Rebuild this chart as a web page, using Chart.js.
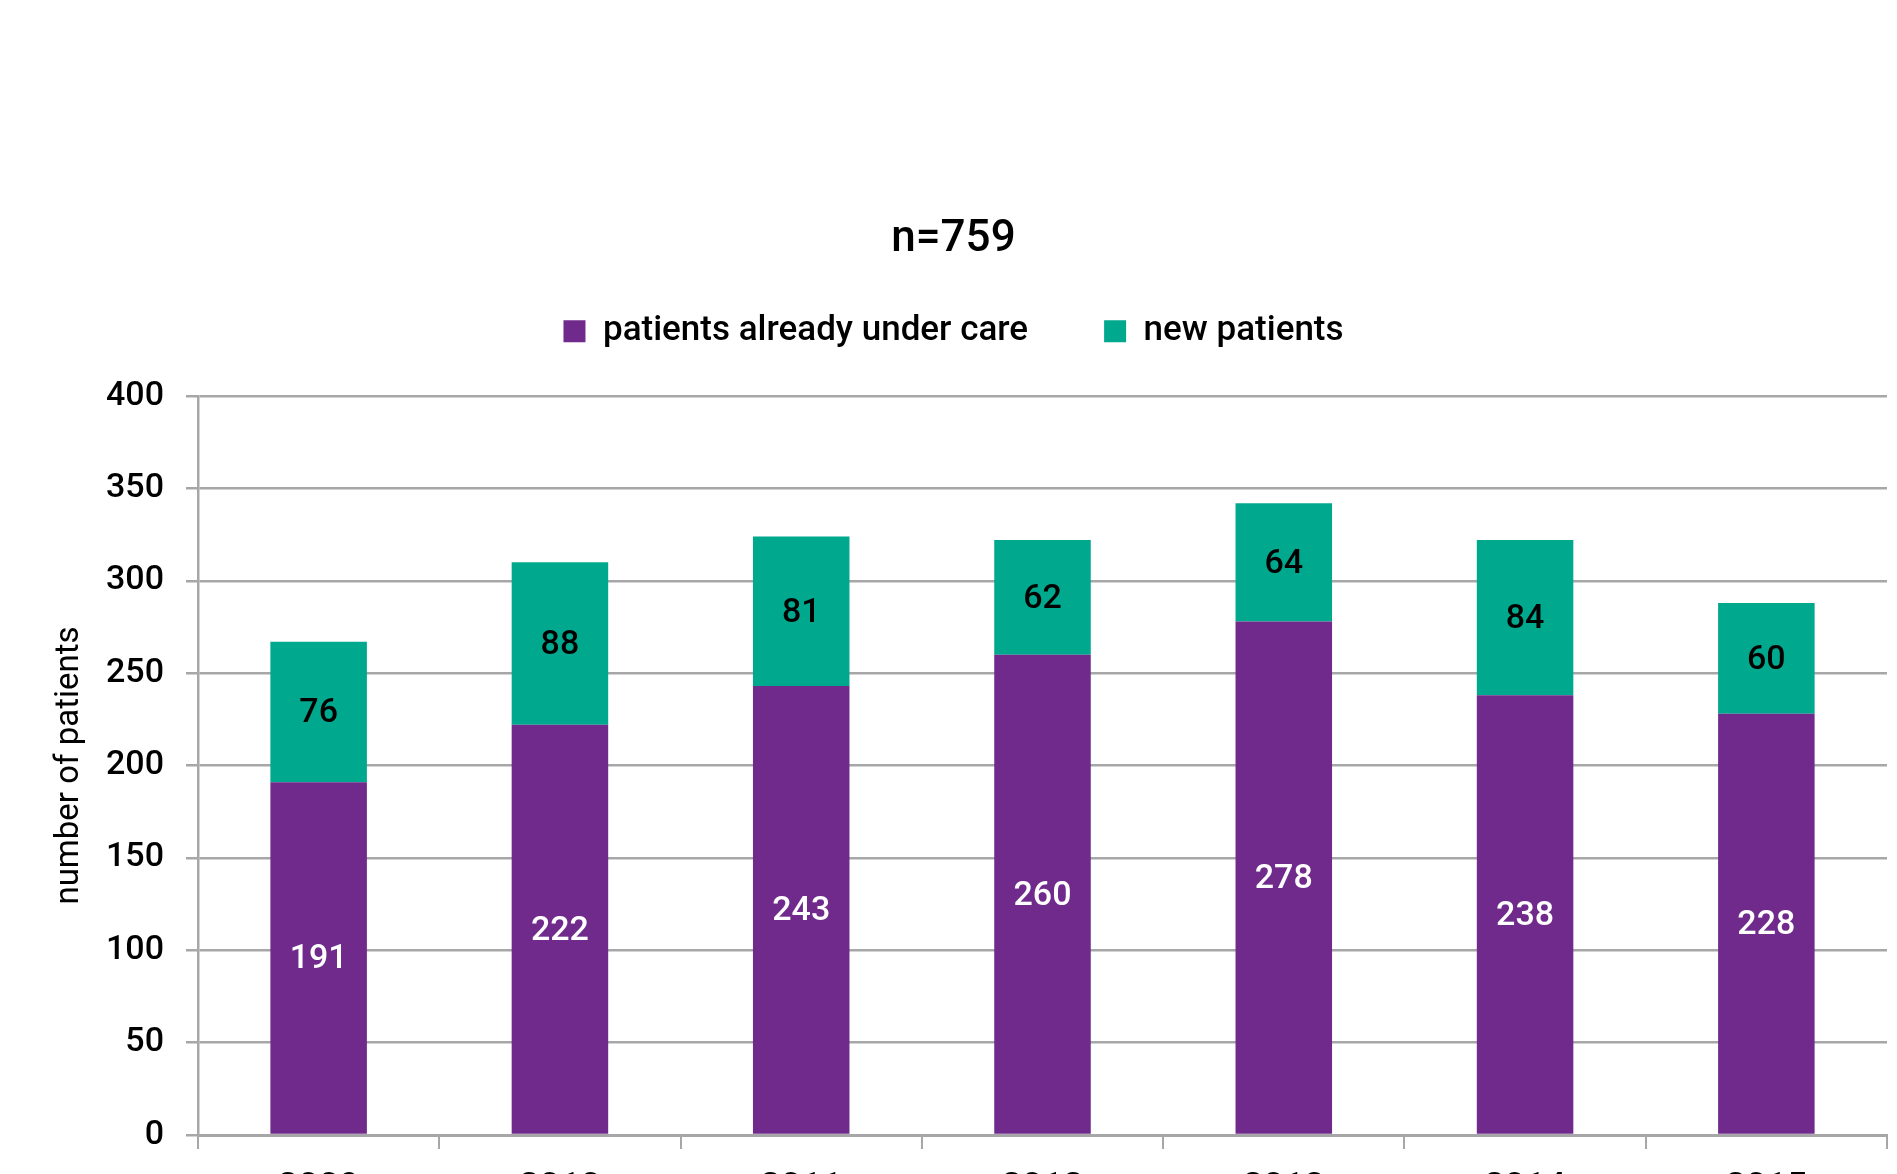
<!DOCTYPE html>
<html>
<head>
<meta charset="utf-8">
<script src="https://cdn.jsdelivr.net/npm/chart.js@4.4.0/dist/chart.umd.min.js"></script>
<style>
    html, body { margin: 0; padding: 0; background: #fff; overflow: hidden; }
    #wrap { width: 1897px; height: 1240px; position: relative; }
</style>
</head>
<body>
<div id="wrap"><canvas id="myChart"></canvas></div>
<script>
const years = ['2009', '2010', '2011', '2012', '2013', '2014', '2015'];
const underCare = [191, 222, 243, 260, 278, 238, 228];
const newPatients = [76, 88, 81, 62, 64, 84, 60];
const yTicks = [0, 50, 100, 150, 200, 250, 300, 350, 400];

const purple = '#6f2a8c';
const teal = '#00a88e';
const gridGray = '#a7a7a9';
const fontFamily = 'Roboto, "Open Sans", sans-serif';

// numbers in the middle of each bar segment
const segmentLabels = {
    id: 'segmentLabels',
    afterDatasetsDraw(chart) {
        const ctx = chart.ctx;
        ctx.save();
        ctx.font = '500 34px ' + fontFamily;
        ctx.textAlign = 'center';
        ctx.textBaseline = 'middle';
        chart.data.datasets.forEach((ds, i) => {
            const meta = chart.getDatasetMeta(i);
            ctx.fillStyle = i === 0 ? '#ffffff' : '#000000';
            meta.data.forEach((bar, j) => {
                const y = (bar.y + bar.base) / 2;
                ctx.fillText(String(ds.data[j]), bar.x, y + 2);
            });
        });
        ctx.restore();
    }
};

const ctx = document.getElementById('myChart').getContext('2d');
const myChart = new Chart(ctx, {
    type: 'bar',
    data: {
        labels: years,
        datasets: [
            {
                label: 'patients already under care',
                data: underCare,
                backgroundColor: purple,
                borderWidth: 0,
                categoryPercentage: 1,
                barPercentage: 0.4
            },
            {
                label: 'new patients',
                data: newPatients,
                backgroundColor: teal,
                borderWidth: 0,
                categoryPercentage: 1,
                barPercentage: 0.4
            }
        ]
    },
    options: {
        responsive: true,
        maintainAspectRatio: false,
        animation: false,
        layout: { padding: { left: 20, right: 10, top: 0, bottom: 0 } },
        plugins: {
            title: {
                display: true,
                text: 'n=759',
                color: '#000',
                font: { family: fontFamily, size: 44, weight: '500' },
                padding: { top: 214, bottom: -29 }
            },
            // empty spacer between legend and plot
            subtitle: {
                display: true,
                text: '',
                weight: 500,
                font: { size: 1 },
                padding: { top: 36, bottom: 0 }
            },
            legend: {
                position: 'top',
                labels: {
                    color: '#000',
                    font: { family: fontFamily, size: 35, weight: '500' },
                    boxWidth: 22,
                    boxHeight: 22,
                    padding: 76
                }
            },
            tooltip: { enabled: false }
        },
        scales: {
            x: {
                stacked: true,
                grid: {
                    drawOnChartArea: false,
                    drawTicks: true,
                    tickLength: 14,
                    color: gridGray,
                    lineWidth: 2
                },
                border: { display: true, color: gridGray, width: 3 },
                ticks: {
                    color: '#000',
                    font: { family: fontFamily, size: 36, weight: '500' },
                    padding: 18
                },
                afterFit(scale) { scale.height = 105; }
            },
            y: {
                stacked: true,
                min: 0,
                max: 400,
                afterBuildTicks(scale) { scale.ticks = yTicks.map(v => ({ value: v })); },
                grid: {
                    color: gridGray,
                    lineWidth: 2.5,
                    tickLength: 12
                },
                border: { display: true, color: gridGray, width: 2.5 },
                ticks: {
                    color: '#000',
                    font: { family: fontFamily, size: 34, weight: '500' },
                    padding: 22
                },
                title: {
                    display: true,
                    text: 'number of patients',
                    color: '#000',
                    font: { family: fontFamily, size: 33 },
                    padding: { top: 30, bottom: 0 }
                },
                afterFit(scale) { scale.width = 178; }
            }
        }
    },
    plugins: [segmentLabels]
});
</script>
</body>
</html>
